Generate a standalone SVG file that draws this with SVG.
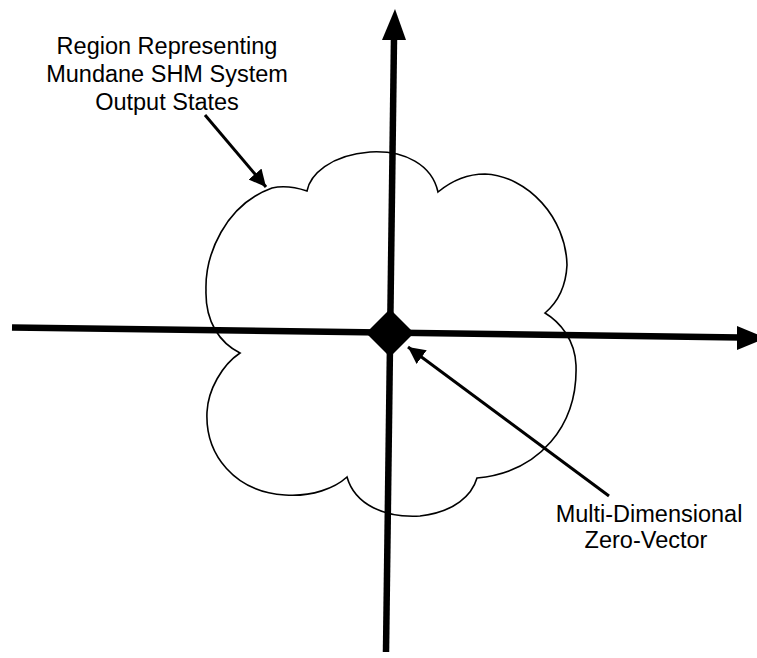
<svg xmlns="http://www.w3.org/2000/svg" width="757" height="658" viewBox="0 0 757 658">
<style>
.lbl{font-family:"Liberation Sans",Arial,sans-serif;font-size:23.5px;fill:#000;text-anchor:middle}
.cloud{fill:none;stroke:#000;stroke-width:1.6}
.axis{stroke:#000;stroke-width:6.5;fill:none}
.ptr{stroke:#000;stroke-width:3;fill:none}
</style>
<defs>
<marker id="ah" markerUnits="userSpaceOnUse" markerWidth="18" markerHeight="18" refX="17" refY="8.5" orient="auto">
<path d="M0,0 L17,8.5 L0,17 z" fill="#000"/>
</marker>
</defs>
<rect width="757" height="658" fill="#fff"/>
<g id="region">
<path class="cloud" d="M307,191 C310,175 330,155 370,152 C405,150 432,165 438,192 C455,178 470,174 485,174 C528,176 566,218 567,265 C566,285 558,302 545,313 C560,322 575,340 576,365 C578,425 540,472 477,478 C472,495 455,512 420,516 C385,518 355,505 347,477 C335,488 312,497 285,495 C235,492 205,455 207,412 C208,390 222,365 240,353 C220,343 205,322 206,290 C205,255 225,205 272,188 C285,185 298,188 307,191 Z"/>
</g>
<g id="axes">
<line class="axis" x1="12" y1="327.5" x2="740" y2="337.5"/>
<polygon points="737,326 766,338 737,350" fill="#000"/>
<line class="axis" x1="394" y1="38" x2="386" y2="652"/>
<polygon points="395,9 406,40 382,40" fill="#000"/>
</g>
<g id="zero-vector">
<polygon points="390,309 414,333 390,357 366,333" fill="#000"/>
</g>
<g id="connectors">
<line class="ptr" x1="205" y1="115" x2="266" y2="187" marker-end="url(#ah)"/>
<line class="ptr" x1="609" y1="496" x2="408" y2="347" marker-end="url(#ah)"/>
</g>
<g id="label-region">
<text class="lbl" x="167" y="54">Region Representing</text>
<text class="lbl" x="167" y="82">Mundane SHM System</text>
<text class="lbl" x="167" y="110">Output States</text>
</g>
<g id="label-zero">
<text class="lbl" x="649" y="522">Multi-Dimensional</text>
<text class="lbl" x="646" y="548">Zero-Vector</text>
</g>
</svg>
